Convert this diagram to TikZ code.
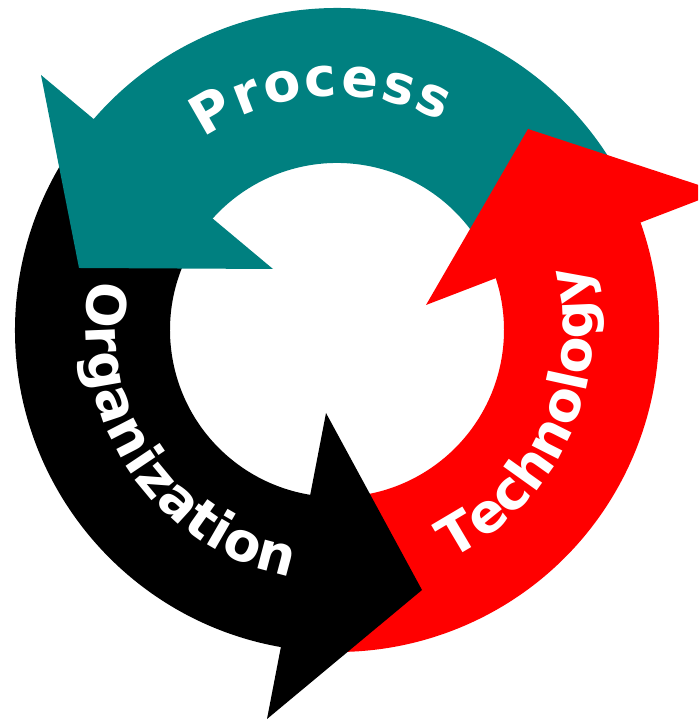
\documentclass[tikz,border=0pt]{standalone}
\usepackage{fontspec}
\newfontfamily\arcfam{DejaVu Sans}
\definecolor{cycteal}{RGB}{0,128,128}
\definecolor{cycred}{RGB}{255,0,0}
\definecolor{cycblack}{RGB}{0,0,0}
\newcommand\arcfont{\arcfam\bfseries\fontsize{54pt}{60pt}\selectfont}
% #1 name prefix, #2 centre angle, #3 baseline radius, #4 sense (1 clockwise, -1 ccw),
% #5 extra spacing, #6 list letter/advance width in em
\newcommand\arcword[6]{%
  \xdef\arctotal{0}%
  \foreach \ch/\w in {#6} {%
    \pgfmathsetmacro\arctmp{\arctotal+\w*54+#5}%
    \xdef\arctotal{\arctmp}%
  }%
  \pgfmathsetmacro\arctmp{\arctotal-#5}%
  \xdef\arctotal{\arctmp}%
  \xdef\arccum{0}%
  \foreach \ch/\w [count=\i] in {#6} {%
    \pgfmathsetmacro\arcoff{(\arccum + 0.5*\w*54 - 0.5*\arctotal)/#3}%
    \pgfmathsetmacro\arcang{#2 - (#4)*\arcoff*57.29578}%
    \pgfmathsetmacro\arcrot{\arcang - 90*(#4)}%
    \node[arcletter, rotate=\arcrot] (#1-\i) at (\arcang:#3pt) {\ch};
    \pgfmathsetmacro\arctmp{\arccum+\w*54+#5}%
    \xdef\arccum{\arctmp}%
  }%
}
\tikzset{
  arcletter/.style={font=\arcfont, text=white, anchor=base, inner sep=0pt},
}
\begin{document}
\begin{tikzpicture}[x=1pt,y=1pt]
\useasboundingbox (0,0) rectangle (698,722);
\clip (0,0) rectangle (698,722);
\begin{scope}[shift={(337,392)}]
  % bodies
  \fill[cycteal] (22:167pt) arc[start angle=22, end angle=142, radius=167pt]
     -- (142:322pt) arc[start angle=142, end angle=22, radius=322pt] -- cycle;
  \fill[cycblack] (142:167pt) arc[start angle=142, end angle=265, radius=167pt]
     -- (265:322pt) arc[start angle=265, end angle=142, radius=322pt] -- cycle;
  \fill[cycred] (265:167pt) arc[start angle=265, end angle=382, radius=167pt]
     -- (382:322pt) arc[start angle=382, end angle=265, radius=322pt] -- cycle;
  % heads
  \fill[cycteal] (-296,255) -- (-258,62) -- (-64,61) -- cycle;
  \fill[cycred] (191,201) -- (383,138) -- (89,25) -- cycle;
  \fill[cycblack] (-11,-83) -- (85,-260) -- (-70,-389) -- cycle;
  % labels
  \arcword{proc}{94}{234}{1}{2.5}{P/0.733,r/0.493,o/0.687,c/0.593,e/0.678,s/0.595,s/0.595}
  \arcword{org}{214.1}{251}{-1}{0.5}{O/0.850,r/0.493,g/0.716,a/0.675,n/0.712,i/0.343,z/0.581,a/0.675,t/0.478,i/0.343,o/0.687,n/0.712}
  \arcword{tech}{335.6}{256}{-1}{0}{T/0.682,e/0.678,c/0.593,h/0.712,n/0.712,o/0.687,l/0.343,o/0.687,g/0.716,y/0.652}
\end{scope}
\end{tikzpicture}
\end{document}
